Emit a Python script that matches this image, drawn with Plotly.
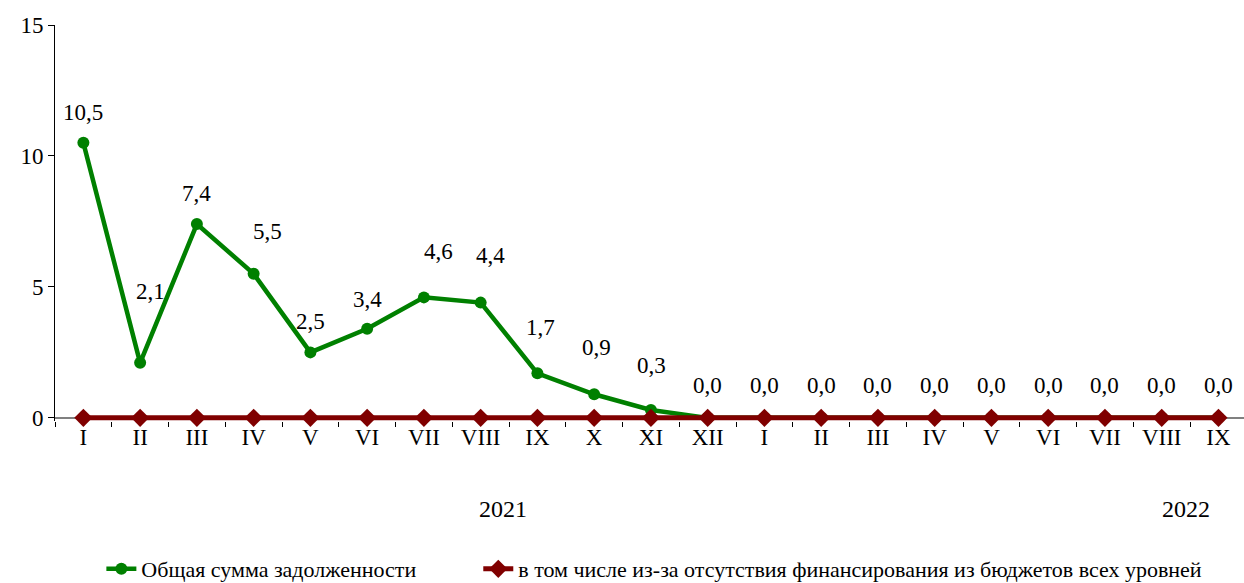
import plotly.graph_objects as go

months = ["I", "II", "III", "IV", "V", "VI", "VII", "VIII", "IX", "X", "XI", "XII",
          "I", "II", "III", "IV", "V", "VI", "VII", "VIII", "IX"]
total_debt = [10.5, 2.1, 7.4, 5.5, 2.5, 3.4, 4.6, 4.4, 1.7, 0.9, 0.3, 0.0,
              0.0, 0.0, 0.0, 0.0, 0.0, 0.0, 0.0, 0.0, 0.0]
budget_debt = [0.0] * 21
years = ["2021", "2022"]
series_names = ["Общая сумма задолженности",
                "в том числе из-за отсутствия финансирования из бюджетов всех уровней"]

# label offsets (px) – styling for data labels
label_dx = [0, 10, 0, 14, 0, 0, 15, 10, 3, 2, 1, 0, 0, 0, 0, 0, 0, 0, 0, 0, 0]
label_dy = [30, 71, 31, 42, 31, 29, 46, 47, 46, 47, 45, 32, 32, 32, 32, 32, 32, 32, 32, 32, 32]

xs = list(range(len(months)))
FONT = "Liberation Serif"
FS = 23

fig = go.Figure()
fig.add_trace(go.Scatter(
    x=xs, y=total_debt, mode="lines+markers", name=series_names[0],
    line=dict(color="#008000", width=4.5),
    marker=dict(symbol="circle", size=12, color="#008000"),
    cliponaxis=False, legend="legend",
))
fig.add_trace(go.Scatter(
    x=xs, y=budget_debt, mode="lines+markers", name=series_names[1],
    line=dict(color="#800000", width=5),
    marker=dict(symbol="diamond", size=14, color="#800000"),
    cliponaxis=False, legend="legend2",
))

for i, v in enumerate(total_debt):
    fig.add_annotation(
        x=xs[i], y=v, text=f"{v:.1f}".replace(".", ","), showarrow=False,
        xshift=label_dx[i], yshift=label_dy[i],
        font=dict(family=FONT, size=FS, color="black"),
    )

fig.add_annotation(x=0.377, y=-0.222, xref="paper", yref="paper", text=years[0],
                   showarrow=False, xanchor="center", yanchor="middle",
                   font=dict(family=FONT, size=24, color="black"))
fig.add_annotation(x=0.951, y=-0.222, xref="paper", yref="paper", text=years[1],
                   showarrow=False, xanchor="center", yanchor="middle",
                   font=dict(family=FONT, size=24, color="black"))

leg_common = dict(orientation="h", yanchor="middle", xanchor="left", y=-0.3737,
                  font=dict(family=FONT, size=22, color="black"),
                  itemwidth=30, bgcolor="rgba(0,0,0,0)", borderwidth=0)

fig.update_layout(
    width=1244, height=583,
    margin=dict(l=55, r=0, t=25, b=162, autoexpand=False),
    plot_bgcolor="white", paper_bgcolor="white",
    font=dict(family=FONT, size=FS, color="black"),
    showlegend=True,
    legend=dict(x=0.039, **leg_common),
    legend2=dict(x=0.356, **leg_common),
    xaxis=dict(
        range=[-0.5, 20.45], tickmode="array", tickvals=xs, ticktext=months,
        showgrid=False, zeroline=False, showline=False, ticks="",
        tickfont=dict(family=FONT, size=FS, color="black"),
        minor=dict(tickmode="linear", tick0=0.5, dtick=1, ticks="outside", ticklen=5,
                   tickcolor="black", showgrid=False),
    ),
    yaxis=dict(
        range=[-0.12, 15], tickvals=[0, 5, 10, 15], showgrid=False,
        zeroline=True, zerolinecolor="#808080", zerolinewidth=1.5,
        showline=True, linecolor="black", linewidth=1,
        ticks="outside", ticklen=6, tickcolor="black",
        tickfont=dict(family=FONT, size=FS, color="black"),
    ),
)

fig.write_html("out.html", config={"displayModeBar": False},
               post_script="document.body.style.margin='0';")
